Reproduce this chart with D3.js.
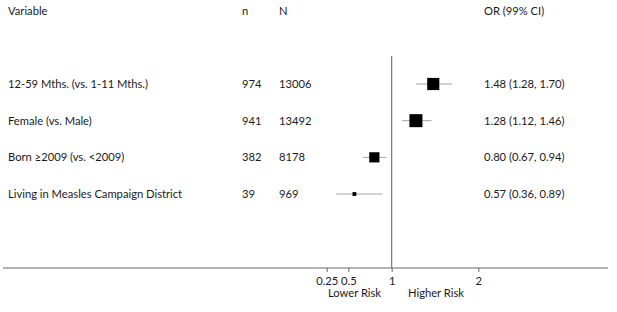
<!DOCTYPE html>
<html><head><meta charset="utf-8">
<script src="https://cdn.jsdelivr.net/npm/d3@7"></script>
<style>body{margin:0;background:#fff}svg{display:block}text{font-family:Lato,"Open Sans",sans-serif;fill:#1a1a1a}</style>
</head><body><svg id="c" width="617" height="312"></svg>
<script>
const variables = ["12-59 Mths. (vs. 1-11 Mths.)","Female (vs. Male)","Born \u22652009 (vs. <2009)","Living in Measles Campaign District"];
const nVals = [974, 941, 382, 39];
const NVals = [13006, 13492, 8178, 969];
const orVals = [1.48, 1.28, 0.80, 0.57];
const loVals = [1.28, 1.12, 0.67, 0.36];
const hiVals = [1.70, 1.46, 0.94, 0.89];
const tickVals = [0.25, 0.5, 1, 2];
const tickLabels = ["0.25","0.5","1","2"];

const svg = d3.select("#c");
const fs = 11.2;
const x = d3.scaleLinear().domain([0.25, 2]).range([326.7, 478.3]);
const y = d3.scalePoint().domain(d3.range(variables.length)).range([84, 194]);
// square side proportional to precision (1 / log CI width)
const prec = orVals.map((d,i)=>1/Math.log(hiVals[i]/loVals[i]));
const side = d3.scaleLinear().domain([0, d3.max(prec)]).range([0, 13]);

// headers
const hdr = svg.append("g").attr("font-size", fs);
hdr.append("text").attr("x", 8).attr("y", 15).text("Variable");
hdr.append("text").attr("x", 242).attr("y", 15).text("n");
hdr.append("text").attr("x", 279).attr("y", 15).text("N");
hdr.append("text").attr("x", 484).attr("y", 15).text("OR (99% CI)");

const rows = svg.append("g").attr("font-size", fs);
variables.forEach((v,i)=>{
  const yy = y(i);
  rows.append("text").attr("x", 8).attr("y", yy).attr("dy","0.35em").text(v);
  rows.append("text").attr("x", 242).attr("y", yy).attr("dy","0.35em").text(nVals[i]);
  rows.append("text").attr("x", 279).attr("y", yy).attr("dy","0.35em").text(NVals[i]);
  rows.append("text").attr("x", 484).attr("y", yy).attr("dy","0.35em")
    .text(`${orVals[i].toFixed(2)} (${loVals[i].toFixed(2)}, ${hiVals[i].toFixed(2)})`);
});

// reference line at 1
svg.append("line").attr("x1", x(1)).attr("x2", x(1)).attr("y1", 56).attr("y2", 268)
  .attr("stroke", "#777").attr("stroke-width", 1.2);

// CIs
svg.append("g").selectAll("line").data(orVals).join("line")
  .attr("x1",(d,i)=>x(loVals[i])).attr("x2",(d,i)=>x(hiVals[i]))
  .attr("y1",(d,i)=>y(i)).attr("y2",(d,i)=>y(i))
  .attr("stroke","#a6a6a6").attr("stroke-width",1);
// squares
svg.append("g").selectAll("rect").data(orVals).join("rect")
  .attr("x",(d,i)=>x(d)-side(prec[i])/2).attr("y",(d,i)=>y(i)-side(prec[i])/2)
  .attr("width",(d,i)=>side(prec[i])).attr("height",(d,i)=>side(prec[i]))
  .attr("fill","#000");

// axis
const axisY = 268;
svg.append("line").attr("x1",3).attr("x2",608).attr("y1",axisY).attr("y2",axisY)
  .attr("stroke","#666").attr("stroke-width",1.2);
const ax = svg.append("g").attr("transform",`translate(0,${axisY})`)
  .call(d3.axisBottom(x).tickValues(tickVals).tickFormat((d,i)=>tickLabels[i]).tickSize(4).tickSizeOuter(0));
ax.select(".domain").remove();
ax.selectAll(".tick line").attr("stroke","#666");
ax.selectAll(".tick text").attr("font-size",fs).attr("font-family","Lato,'Open Sans',sans-serif")
  .attr("fill","#1a1a1a").attr("y",13).attr("dy","0.35em");
svg.append("text").attr("x",328).attr("y",293).attr("dy","0.35em").attr("font-size",fs).text("Lower Risk");
svg.append("text").attr("x",408).attr("y",293).attr("dy","0.35em").attr("font-size",fs).text("Higher Risk");
</script></body></html>
